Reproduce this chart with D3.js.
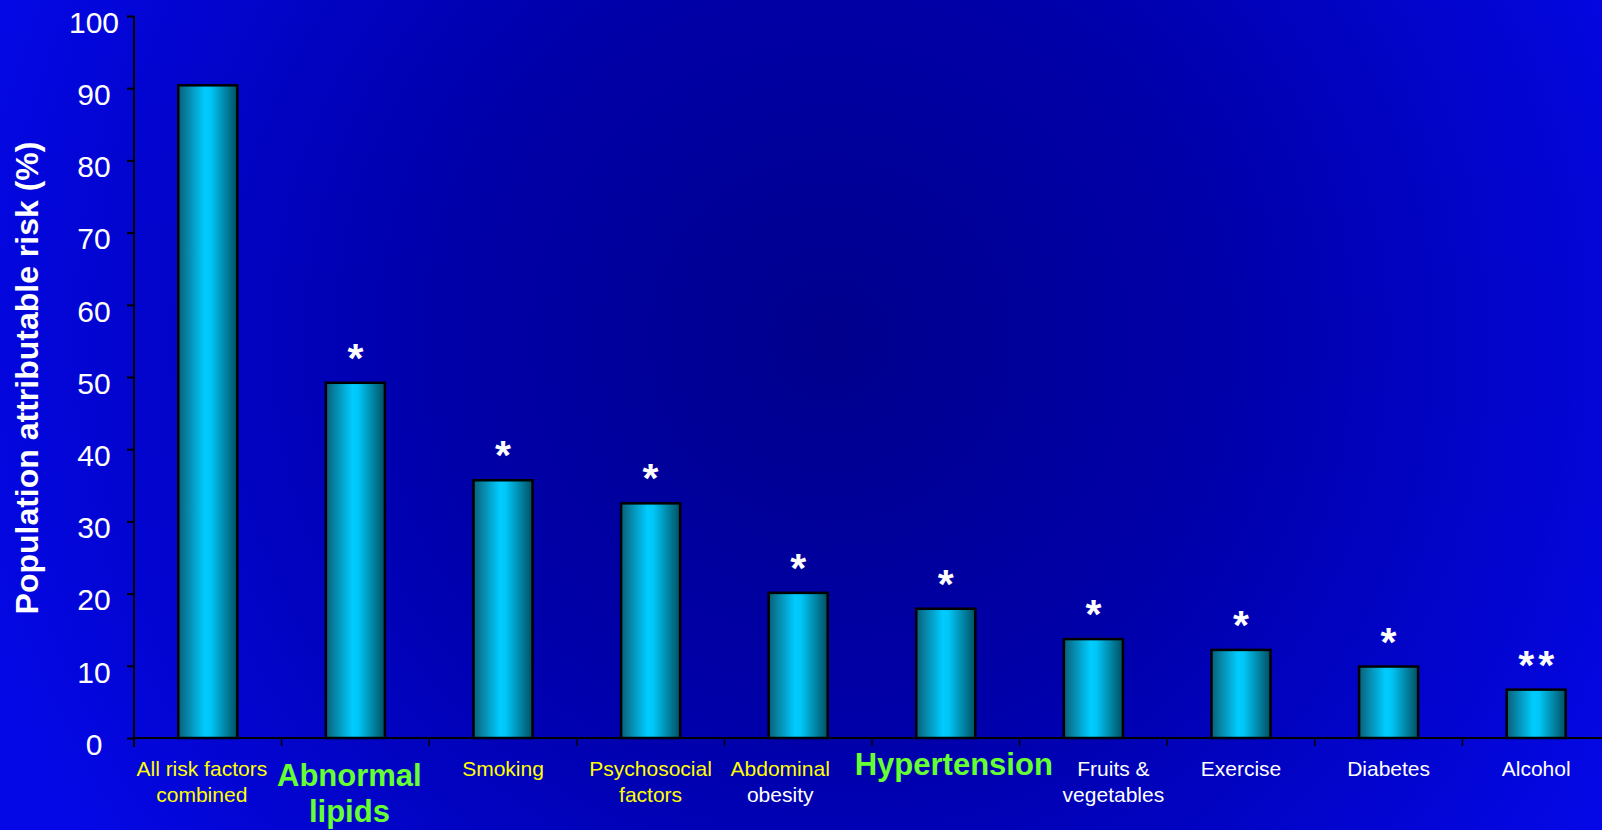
<!DOCTYPE html>
<html>
<head>
<meta charset="utf-8">
<script src="https://cdn.jsdelivr.net/npm/d3@7"></script>
<style>
  html, body { margin: 0; padding: 0; background: #0000c8; }
  svg { display: block; }
  text { font-family: "Liberation Sans", Arial, sans-serif; }
</style>
</head>
<body>
<svg id="chart" width="1602" height="830"></svg>
<script>
// INTERHEART: population attributable risk of myocardial infarction (%)
const categories = [
  "All risk factors combined", "Abnormal lipids", "Smoking", "Psychosocial factors",
  "Abdominal obesity", "Hypertension", "Fruits & vegetables", "Exercise", "Diabetes", "Alcohol"
];
const values = [90.4, 49.2, 35.7, 32.5, 20.1, 17.9, 13.7, 12.2, 9.9, 6.7];
const significance = ["", "*", "*", "*", "*", "*", "*", "*", "*", "**"];
const yTicks = [0, 10, 20, 30, 40, 50, 60, 70, 80, 90, 100];

// Label lines with colours; highlighted factors are drawn large, bold and green
const labelLines = [
  [["All risk factors", "yellow"], ["combined", "yellow"]],
  [["Abnormal", "green"], ["lipids", "green"]],
  [["Smoking", "yellow"]],
  [["Psychosocial", "yellow"], ["factors", "yellow"]],
  [["Abdominal", "yellow"], ["obesity", "white"]],
  [["Hypertension", "green"]],
  [["Fruits &", "white"], ["vegetables", "white"]],
  [["Exercise", "white"]],
  [["Diabetes", "white"]],
  [["Alcohol", "white"]]
];

// Layout
const plotLeft = 134, plotTop = 16, plotBottom = 738;
const step = 147.6;
const labelShift = [-6, -6, 0, 0, -18, 8, 20, 0, 0, 0];
const colorMap = { yellow: "#ffff00", white: "#ffffff", green: "#66ff33" };

const svg = d3.select("#chart");
const defs = svg.append("defs");

const bg = defs.append("radialGradient")
  .attr("id", "bg").attr("gradientUnits", "userSpaceOnUse")
  .attr("cx", 830).attr("cy", 340).attr("r", 900);
bg.append("stop").attr("offset", 0).attr("stop-color", "#00008c");
bg.append("stop").attr("offset", 0.45).attr("stop-color", "#0000aa");
bg.append("stop").attr("offset", 1).attr("stop-color", "#0408e6");

const barGrad = defs.append("linearGradient")
  .attr("id", "bar").attr("x1", 0).attr("x2", 1).attr("y1", 0).attr("y2", 0);
barGrad.append("stop").attr("offset", 0).attr("stop-color", "#0a5f78");
barGrad.append("stop").attr("offset", 0.45).attr("stop-color", "#00ccff");
barGrad.append("stop").attr("offset", 0.55).attr("stop-color", "#00c6f6");
barGrad.append("stop").attr("offset", 1).attr("stop-color", "#004f62");

svg.append("rect").attr("width", 1602).attr("height", 830).attr("fill", "url(#bg)");

const x = d3.scaleBand().domain(categories).range([plotLeft, plotLeft + step * categories.length]).padding(0);
const y = d3.scaleLinear().domain([0, 100]).range([plotBottom, plotTop]);
const barW = x.bandwidth() * 0.4;

// Bars
svg.append("g").selectAll("rect").data(categories).join("rect")
  .attr("x", d => x(d) + (x.bandwidth() - barW) / 2)
  .attr("y", (d, i) => y(values[i]))
  .attr("width", barW)
  .attr("height", (d, i) => y(0) - y(values[i]))
  .attr("fill", "url(#bar)")
  .attr("stroke", "#000").attr("stroke-width", 2.5);

// Significance markers
svg.append("g").selectAll("text").data(categories).join("text")
  .attr("x", (d, i) => x(d) + x.bandwidth() / 2 + (significance[i].length > 1 ? 2 : 0))
  .attr("y", (d, i) => y(values[i]) - 11)
  .attr("text-anchor", "middle")
  .attr("letter-spacing", (d, i) => significance[i].length > 1 ? 4 : 0)
  .attr("fill", "#fff").attr("font-weight", "bold").attr("font-size", 41)
  .text((d, i) => significance[i]);

// Y axis (tick labels centred in the gutter)
const yAxis = svg.append("g").attr("transform", `translate(${plotLeft},0)`)
  .call(d3.axisLeft(y).tickValues(yTicks).tickSize(7).tickFormat(d3.format("d")));
yAxis.select(".domain").attr("stroke", "#000").attr("stroke-width", 2).attr("d", `M0,${plotTop}V${plotBottom + 9}`);
yAxis.selectAll(".tick line").attr("stroke", "#000").attr("stroke-width", 2);
yAxis.selectAll(".tick text").attr("fill", "#fff").attr("font-size", 30)
  .attr("font-family", "'Liberation Sans', Arial, sans-serif")
  .attr("text-anchor", "middle").attr("x", -40).attr("dy", "0.54em");

// X axis with ticks at category boundaries
svg.append("line").attr("x1", plotLeft).attr("x2", 1602).attr("y1", plotBottom).attr("y2", plotBottom)
  .attr("stroke", "#000").attr("stroke-width", 2);
svg.append("g").selectAll("line").data(categories.slice(1)).join("line")
  .attr("x1", d => x(d)).attr("x2", d => x(d))
  .attr("y1", plotBottom).attr("y2", plotBottom + 8)
  .attr("stroke", "#000").attr("stroke-width", 1.5);

// Category labels
const labels = svg.append("g");
categories.forEach((c, i) => {
  const cx = x(c) + x.bandwidth() / 2 + labelShift[i];
  const lines = labelLines[i];
  const big = lines[0][1] === "green";
  lines.forEach(([t, col], j) => {
    labels.append("text")
      .attr("x", cx)
      .attr("y", big ? (lines.length > 1 ? 786 + j * 36 : 775) : 776 + j * 26)
      .attr("text-anchor", "middle")
      .attr("fill", colorMap[col])
      .attr("font-size", big ? 31 : 21)
      .attr("font-weight", big ? "bold" : "normal")
      .text(t);
  });
});

// Y axis title
svg.append("text")
  .attr("transform", "translate(38,378) rotate(-90)")
  .attr("text-anchor", "middle")
  .attr("fill", "#fff").attr("font-weight", "bold").attr("font-size", 32)
  .text("Population attributable risk (%)");
</script>
</body>
</html>
